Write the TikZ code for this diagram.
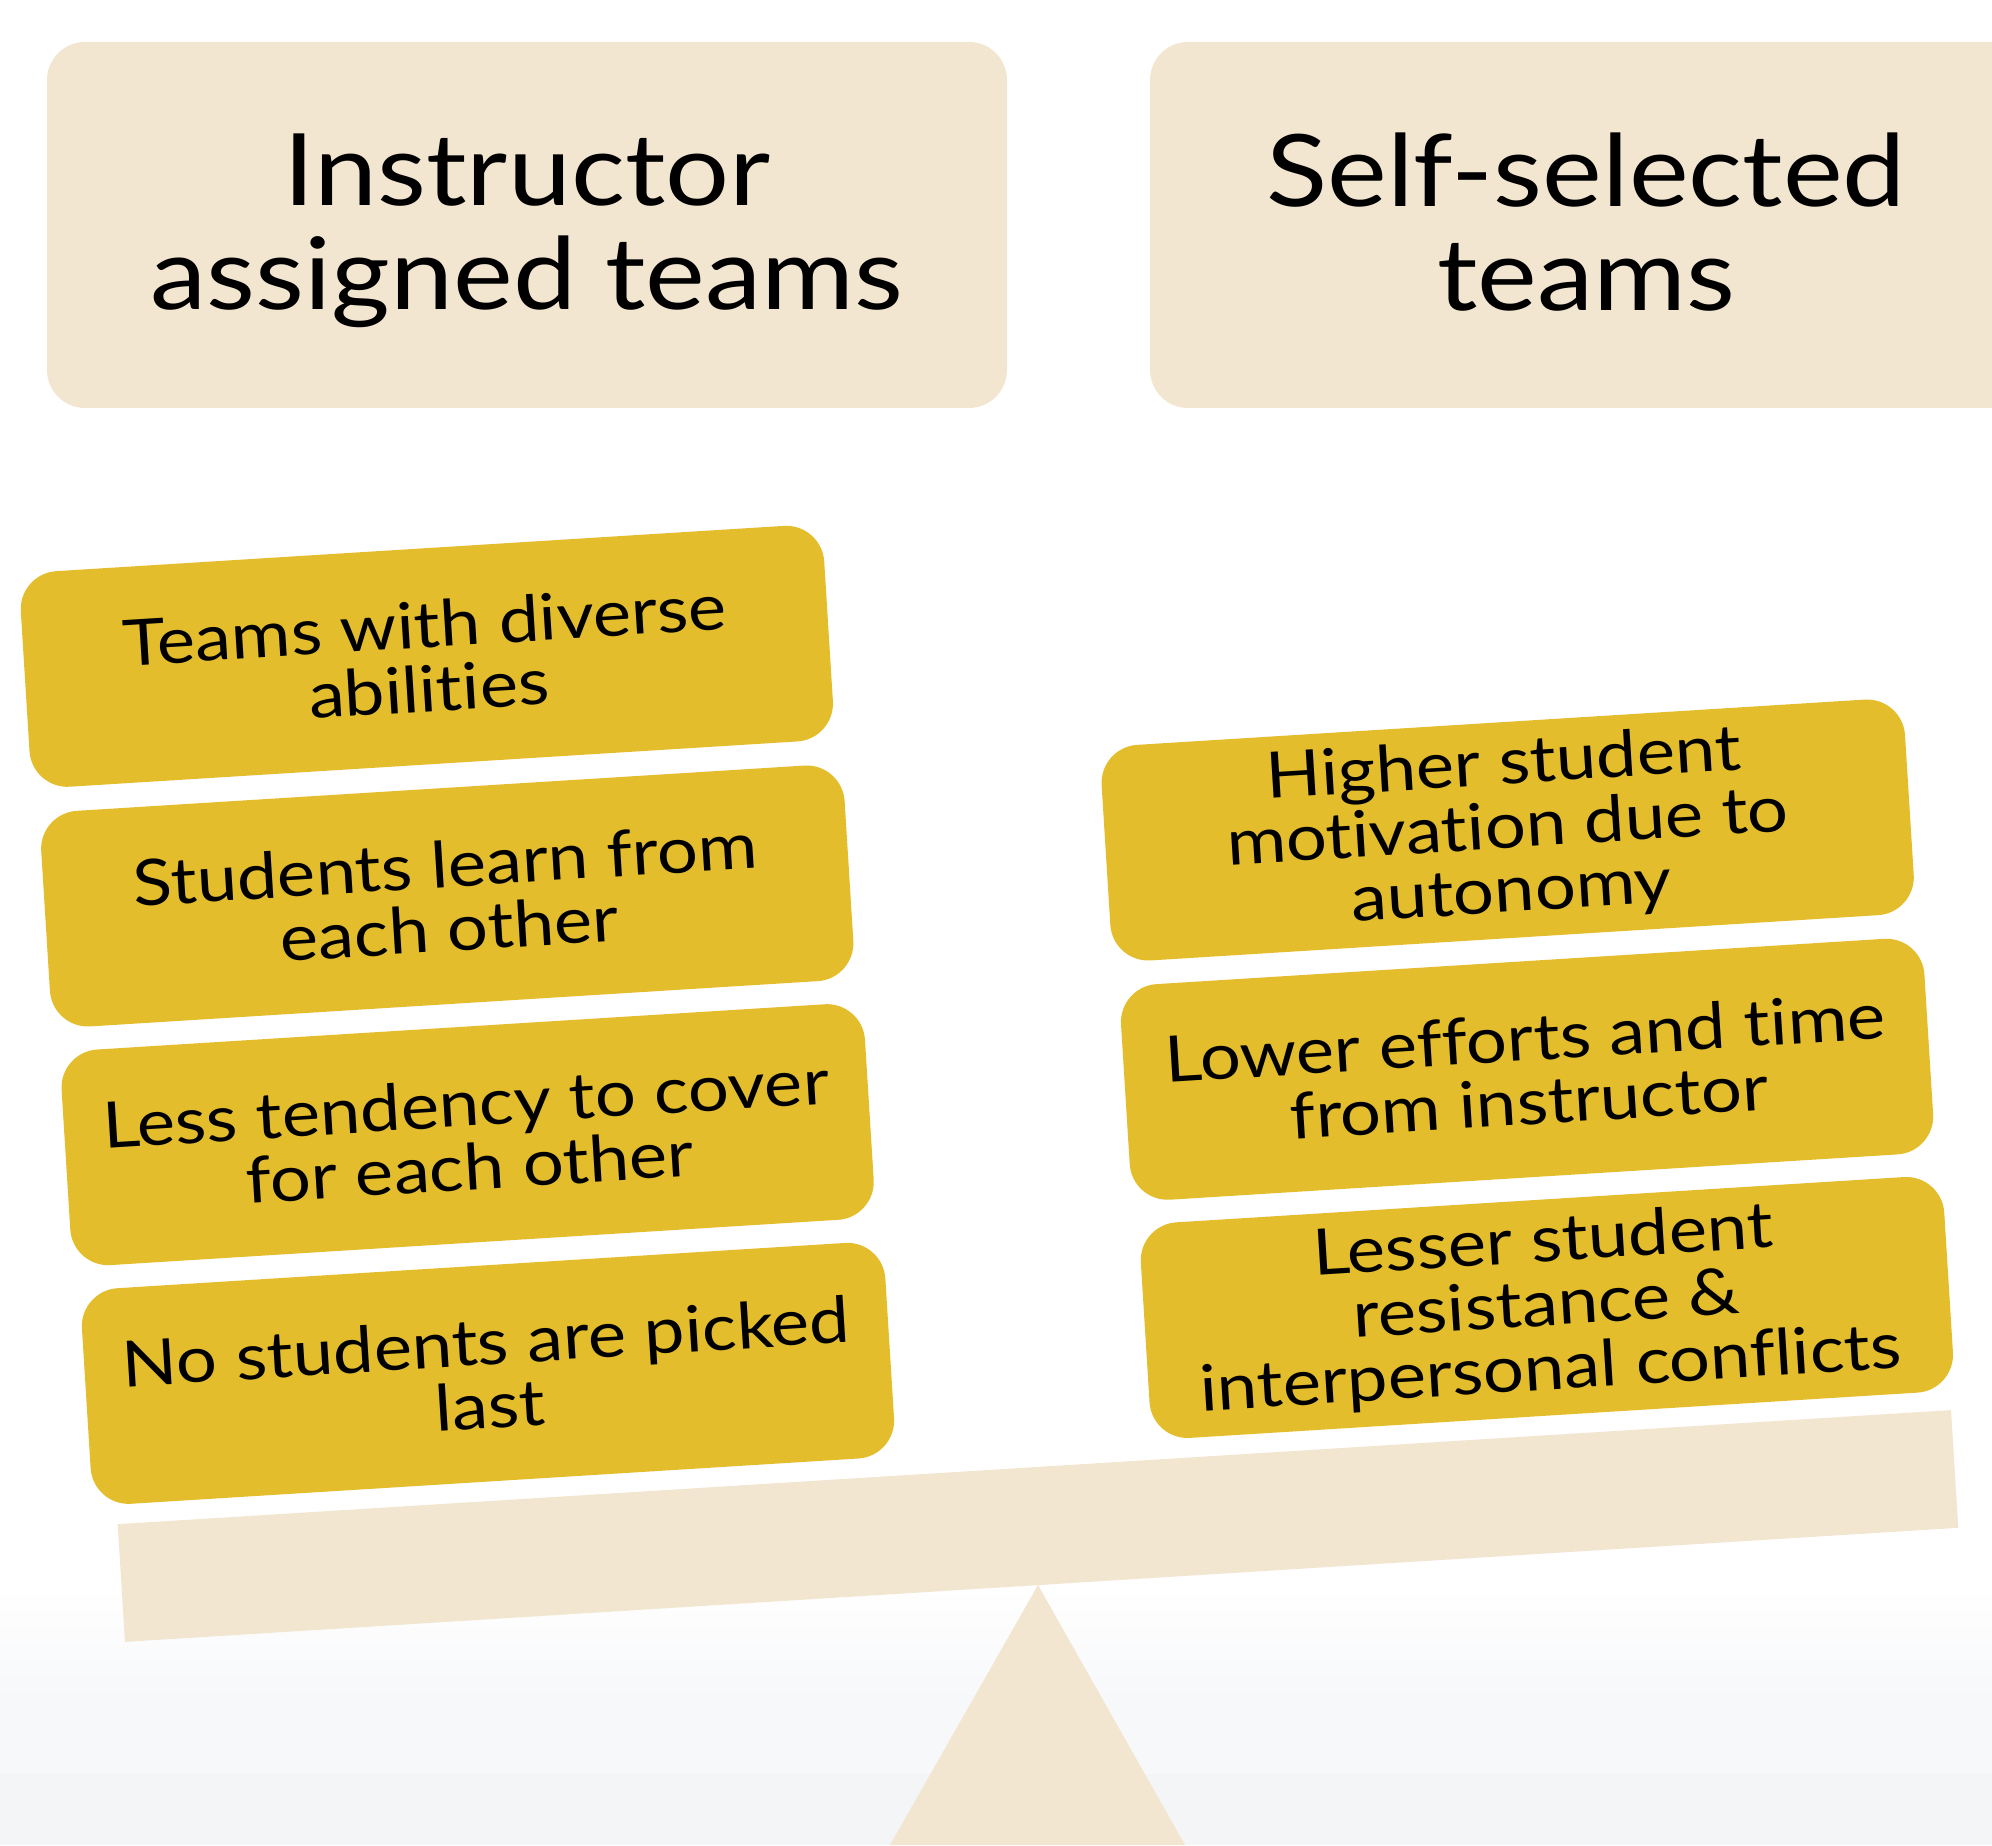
\documentclass[tikz,border=0pt]{standalone}
\usepackage{fontspec}
\setmainfont{Lato}[FakeStretch=1.13, Ligatures=NoCommon]

\definecolor{sand}{RGB}{243,230,209}
\definecolor{mustard}{RGB}{228,189,44}
\definecolor{floorA}{RGB}{247,248,250}
\definecolor{floorB}{RGB}{244,245,247}

\tikzset{
  head/.style={fill=sand, rounded corners=38pt, minimum width=960pt, minimum height=366pt},
  headtext/.style={align=center, font=\fontsize{100}{104}\selectfont},
  item/.style={fill=mustard, rounded corners=38pt, minimum width=805pt, minimum height=216pt,
    align=center, font=\fontsize{64}{64}\selectfont, transform shape},
}

\begin{document}
\begin{tikzpicture}[x=1pt,y=1pt]
    \useasboundingbox (0,0) rectangle (1992,1845);
    % floor
    \shade[top color=white, bottom color=floorA] (0,260) rectangle (1992,143);
    \fill[floorA] (0,143) rectangle (1992,71);
    \fill[floorB] (0,71) rectangle (1992,0);
    % the two headings
    \node[head] (assigned) at (527,1620) {};
    \node[head, minimum width=880pt] (selfsel) at (1590,1620) {};
    \node[headtext] (assignedtxt) at ([yshift=-6pt]assigned.center) {Instructor\\assigned teams};
    \node[headtext] (selfseltxt) at ([xshift=-4pt,yshift=3pt]selfsel.center) {Self-selected\\teams};
    % fulcrum
    \fill[sand] (890,0) -- (1038,260) -- (1185,0) -- cycle;
    % beam and the weights on it
    \begin{scope}[shift={(1038,319)}, rotate=3.56]
        \fill[sand] (-918.5,-59) rectangle (918.5,59);
        \node[item] (diverse) at (-556,906) {Teams with diverse\\abilities};
        \node[item] (learn) at (-550.5,665.5) {Students learn from\\each other};
        \node[item] (cover) at (-545,426) {Less tendency to cover\\for each other};
        \node[item] (picked) at (-539.5,186.5) {No students are picked\\last};
        \node[item] (motivation) at (512,665.5) {Higher student\\motivation due to\\autonomy};
        \node[item] (efforts) at (516.5,425.5) {Lower efforts and time\\from instructor};
        \node[item] (resistance) at (521.5,186.5) {Lesser student\\resistance \&\\interpersonal conflicts};
    \end{scope}
\end{tikzpicture}
\end{document}
